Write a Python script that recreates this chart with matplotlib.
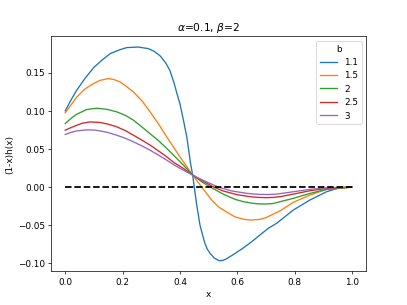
import numpy as np
import matplotlib.pyplot as plt

# values, one (x, y) list per b
b_labels = ['1.1', '1.5', '2', '2.5', '3']

x_b11 = [0.0, 0.02, 0.04, 0.07, 0.10, 0.13, 0.157, 0.19, 0.215, 0.255, 0.29, 0.31,
         0.331, 0.35, 0.365, 0.38, 0.39, 0.40, 0.412, 0.424, 0.437, 0.4445, 0.45,
         0.458, 0.47, 0.487, 0.495, 0.505, 0.52, 0.537, 0.55, 0.56, 0.575, 0.592,
         0.62, 0.65, 0.679, 0.708, 0.737, 0.795, 0.853, 0.911, 0.957, 1.0]
y_b11 = [0.0999, 0.114, 0.127, 0.143, 0.157, 0.167, 0.175, 0.180, 0.1829, 0.1836,
         0.1815, 0.178, 0.172, 0.163, 0.153, 0.136, 0.122, 0.1095, 0.088, 0.0658,
         0.031, 0.0157, 0.0, -0.022, -0.050, -0.0737, -0.081, -0.0868, -0.093,
         -0.0965, -0.096, -0.0945, -0.091, -0.087, -0.080, -0.0716, -0.0628,
         -0.054, -0.0475, -0.0301, -0.017, -0.0061, -0.0008, 0.0]

x_b15 = [0.0, 0.04, 0.07, 0.10, 0.122, 0.151, 0.17, 0.191, 0.21, 0.238, 0.27, 0.296,
         0.325, 0.354, 0.40, 0.4445, 0.476, 0.511, 0.534, 0.56, 0.592, 0.62, 0.644,
         0.679, 0.70, 0.75, 0.795, 0.853, 0.911, 1.0]
y_b15 = [0.0973, 0.118, 0.129, 0.136, 0.140, 0.1423, 0.141, 0.1378, 0.133, 0.1247,
         0.112, 0.0986, 0.083, 0.0658, 0.0397, 0.0157, 0.0, -0.017, -0.0258, -0.032,
         -0.039, -0.042, -0.0432, -0.0423, -0.040, -0.031, -0.020, -0.0105, -0.003,
         0.0]

x_b2 = [0.0, 0.02, 0.04, 0.075, 0.11, 0.145, 0.18, 0.21, 0.238, 0.27, 0.296, 0.325,
        0.354, 0.38, 0.412, 0.4445, 0.48, 0.516, 0.55, 0.592, 0.62, 0.65, 0.675,
        0.70, 0.725, 0.75, 0.795, 0.853, 0.911, 1.0]
y_b2 = [0.0833, 0.090, 0.0955, 0.1017, 0.1034, 0.102, 0.0986, 0.094, 0.0877, 0.078,
        0.070, 0.061, 0.0507, 0.041, 0.0288, 0.0157, 0.006, -0.002, -0.009, -0.016,
        -0.019, -0.021, -0.022, -0.0222, -0.0215, -0.019, -0.0148, -0.0083, -0.003,
        0.0]

x_b25 = [0.0, 0.02, 0.04, 0.06, 0.087, 0.122, 0.15, 0.18, 0.21, 0.238, 0.27, 0.296,
         0.325, 0.354, 0.38, 0.412, 0.4445, 0.48, 0.516, 0.55, 0.60, 0.65, 0.675,
         0.70, 0.725, 0.75, 0.795, 0.853, 0.911, 1.0]
y_b25 = [0.0746, 0.078, 0.081, 0.0838, 0.0855, 0.0847, 0.0825, 0.079, 0.074, 0.068,
         0.061, 0.055, 0.0475, 0.0397, 0.032, 0.0245, 0.0157, 0.008, 0.0004, -0.005,
         -0.010, -0.0128, -0.0135, -0.0138, -0.0135, -0.0125, -0.0092, -0.0048,
         -0.0017, 0.0]

x_b3 = [0.0, 0.02, 0.04, 0.075, 0.10, 0.122, 0.15, 0.18, 0.21, 0.238, 0.27, 0.296,
        0.325, 0.354, 0.38, 0.412, 0.4445, 0.48, 0.534, 0.58, 0.63, 0.655, 0.68,
        0.71, 0.737, 0.795, 0.853, 0.911, 1.0]
y_b3 = [0.069, 0.0717, 0.0737, 0.075, 0.0748, 0.0737, 0.0715, 0.068, 0.064, 0.0593,
        0.0535, 0.0484, 0.042, 0.0353, 0.029, 0.0222, 0.0157, 0.009, 0.0, -0.005,
        -0.008, -0.009, -0.0096, -0.0097, -0.0092, -0.0061, -0.003, -0.001, 0.0]

xs = [x_b11, x_b15, x_b2, x_b25, x_b3]
ys = [y_b11, y_b15, y_b2, y_b25, y_b3]

fig = plt.figure(figsize=(6.4, 4.8), dpi=63.6)
for x, y, lab in zip(xs, ys, b_labels):
    plt.plot(x, y, label=lab)
plt.plot([0, 1], [0, 0], 'k--', lw=2)

plt.xlabel('x')
plt.ylabel('(1-x)h(x)')
plt.title(r'$\alpha$=0.1, $\beta$=2')
plt.legend(title='b', loc='upper right')
plt.savefig('out.png', dpi=63.6)
